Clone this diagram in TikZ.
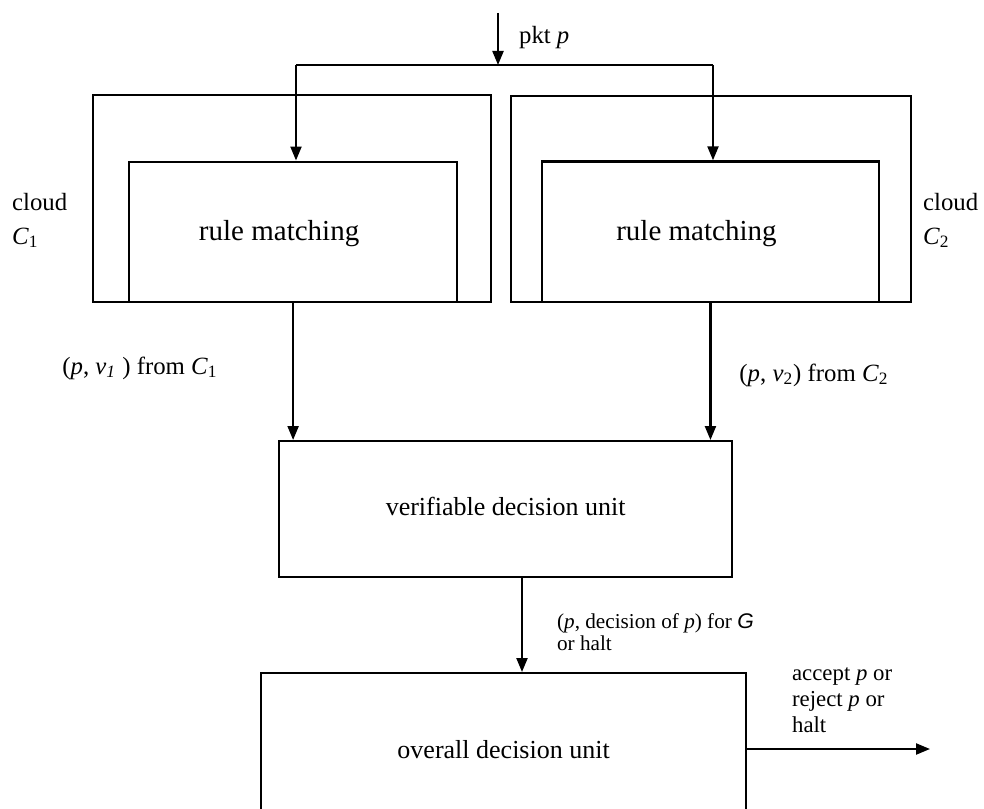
\documentclass[tikz,border=0pt]{standalone}
\usepackage{fontspec}
\setmainfont{Liberation Serif}
\setsansfont{Liberation Sans}
\usetikzlibrary{arrows.meta}
\begin{document}
\begin{tikzpicture}[x=0.5pt,y=-0.5pt,
  line width=1.1pt,
  arr/.style={-{Triangle[length=7pt,width=5.5pt]}},
  box/.style={draw, rectangle, inner sep=0pt, anchor=north west},
  lbl/.style={font=\fontsize{13}{15}\selectfont},
  rlbl/.style={font=\fontsize{14.5}{16}\selectfont},
  note/.style={font=\fontsize{12.4}{17}\selectfont, align=left, inner sep=0pt},
  small/.style={font=\fontsize{11.4}{13}\selectfont, align=left, inner sep=0pt, anchor=north west},
  tiny/.style={font=\fontsize{10.6}{11.2}\selectfont, align=left, inner sep=0pt, anchor=north west}]
\useasboundingbox (0,0) rectangle (984,808);
\clip (0,0) rectangle (984,808);

% two cloud enclosures with their rule-matching stages
\node[box, minimum width=199pt, minimum height=103.5pt] (out1) at (92,94) {};
\node[box, minimum width=200pt, minimum height=103pt] (out2) at (510,95) {};
\node[box, minimum width=164pt, minimum height=70.25pt] (in1) at (128,160.5) {};
\node[box, minimum width=168.65pt, minimum height=70.35pt] (in2) at (540.7,160.3) {};
\node[rlbl] (rm1) at ([xshift=-7pt,yshift=-1pt]in1.center) {rule matching};
\node[rlbl] (rm2) at ([xshift=-7pt,yshift=-1pt]in2.center) {rule matching};

% decision units
\node[box, minimum width=226.5pt, minimum height=68pt] (vdu) at (278,440) {};
\node[lbl] (vdut) at ([yshift=1.5pt]vdu.center) {verifiable decision unit};
\node[box, minimum width=242.5pt, minimum height=76pt] (odu) at (260,672) {};
\node[lbl] (odut) at (odu.center) {overall decision unit};

% incoming packet, split to both clouds
\coordinate (src) at (498,13);
\coordinate (split) at (498,65);
\coordinate (b1) at (296,65);
\coordinate (b2) at (713,65);
\draw[arr] (src) -- (split);
\draw (b1) -- (b2);
\draw[arr] (b1) -- (b1 |- in1.north);
\draw[arr] (b2) -- (b2 |- in2.north);
\node[note, anchor=west] (pkt) at (518,38) {pkt \textit{p}};

% results of rule matching
\draw[arr] (in1.south) -- (in1.south |- vdu.north);
\draw[arr] (in2.south) -- (in2.south |- vdu.north);
\coordinate (vout) at (522,576);
\draw[arr] (vout) -- (vout |- odu.north);
\coordinate (oout) at (930,749);
\draw[arr] (odu.east |- oout) -- (oout);

% labels
\node[note, anchor=north west] (c1) at (11,192) {cloud\\\textit{C}\textsubscript{1}};
\node[note, anchor=north west] (c2) at (922,192) {cloud\\\textit{C}\textsubscript{2}};
\node[note] (v1) at (140,368) {(\textit{p}, \textit{v}\textsubscript{\textit{1}}~) from \textit{C}\textsubscript{1}};
\node[note] (v2) at (814,375) {(\textit{p}, \textit{v}\textsubscript{2}) from \textit{C}\textsubscript{2}};
\node[tiny] (dec) at (556,612) {(\textit{p}, decision of \textit{p}) for \textsf{\textit{G}}\\or halt};
\node[small] (acc) at (791,667) {accept \textit{p} or\\reject \textit{p} or\\halt};
\end{tikzpicture}
\end{document}
